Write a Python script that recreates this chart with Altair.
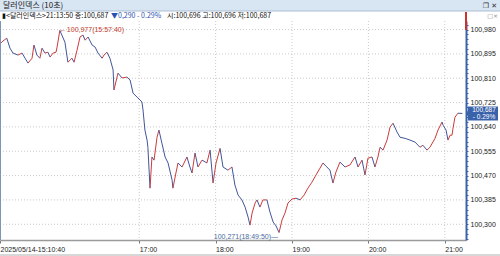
import altair as alt
import pandas as pd

DATE = "2025-05-14"

times = [
    "15:10:40", "15:13:00", "15:16:00", "15:18:30", "15:20:50", "15:24:50", "15:28:00", "15:30:20",
    "15:32:40", "15:35:50", "15:37:20", "15:39:40", "15:42:00", "15:43:40", "15:46:00", "15:48:20",
    "15:50:00", "15:52:20", "15:54:40", "15:55:30", "15:57:40", "16:01:40", "16:04:00", "16:07:10",
    "16:08:50", "16:11:10", "16:13:30", "16:15:50", "16:17:30", "16:19:50", "16:23:00", "16:25:20",
    "16:27:40", "16:30:50", "16:32:20", "16:34:40", "16:37:00", "16:39:30", "16:40:10", "16:43:20",
    "16:46:30", "16:50:20", "16:52:50", "16:55:10", "16:58:20", "17:00:40", "17:02:10", "17:03:00",
    "17:04:30", "17:06:10", "17:06:50", "17:08:30", "17:10:00", "17:11:40", "17:14:00", "17:15:30",
    "17:17:50", "17:20:20", "17:22:40", "17:25:50", "17:26:30", "17:28:50", "17:30:30", "17:33:40",
    "17:37:30", "17:39:50", "17:41:30", "17:43:50", "17:46:10", "17:49:20", "17:53:10", "17:55:40",
    "17:58:00", "18:00:20", "18:03:30", "18:05:50", "18:09:40", "18:12:50", "18:15:10", "18:17:40",
    "18:20:40", "18:23:10", "18:25:30", "18:27:00", "18:28:40", "18:31:00", "18:32:30", "18:34:50",
    "18:37:10", "18:40:20", "18:42:40", "18:45:10", "18:47:30", "18:49:50", "18:52:10", "18:54:30",
    "18:56:50", "19:00:00", "19:03:10", "19:06:20", "19:09:30", "19:12:30", "19:15:40", "19:18:50",
    "19:22:00", "19:24:20", "19:26:40", "19:29:50", "19:32:10", "19:34:30", "19:37:40", "19:41:40",
    "19:45:30", "19:49:30", "19:51:50", "19:55:00", "19:57:20", "19:59:40", "20:02:50", "20:05:10",
    "20:07:30", "20:09:10", "20:11:30", "20:14:40", "20:17:00", "20:19:20", "20:22:30", "20:24:50",
    "20:28:50", "20:32:40", "20:36:40", "20:40:30", "20:42:50", "20:46:00", "20:48:20", "20:52:20",
    "20:54:40", "20:57:50", "20:58:40", "21:01:00", "21:02:30", "21:04:10", "21:05:40", "21:06:30",
    "21:08:00", "21:10:20", "21:13:50",
]
values = [
    100.930, 100.940, 100.950, 100.915, 100.898, 100.891, 100.898, 100.880,
    100.863, 100.880, 100.926, 100.891, 100.880, 100.915, 100.898, 100.901,
    100.884, 100.898, 100.901, 100.919, 100.977, 100.936, 100.866, 100.880,
    100.866, 100.908, 100.954, 100.961, 100.943, 100.954, 100.926, 100.919,
    100.898, 100.880, 100.891, 100.901, 100.880, 100.839, 100.769, 100.828,
    100.811, 100.814, 100.804, 100.758, 100.744, 100.734, 100.727, 100.699,
    100.629, 100.594, 100.569, 100.426, 100.535, 100.524, 100.604, 100.629,
    100.583, 100.535, 100.514, 100.454, 100.426, 100.479, 100.514, 100.500,
    100.535, 100.500, 100.479, 100.549, 100.500, 100.524, 100.514, 100.559,
    100.444, 100.514, 100.565, 100.500, 100.489, 100.500, 100.437, 100.402,
    100.385, 100.360, 100.325, 100.297, 100.339, 100.374, 100.385, 100.360,
    100.385, 100.385, 100.343, 100.308, 100.294, 100.271, 100.315, 100.339,
    100.374, 100.388, 100.391, 100.385, 100.402, 100.426, 100.447, 100.472,
    100.496, 100.514, 100.503, 100.489, 100.444, 100.482, 100.517, 100.500,
    100.507, 100.535, 100.500, 100.524, 100.472, 100.531, 100.535, 100.500,
    100.535, 100.569, 100.559, 100.594, 100.639, 100.653, 100.622, 100.604,
    100.600, 100.594, 100.587, 100.569, 100.576, 100.559, 100.569, 100.600,
    100.629, 100.657, 100.646, 100.629, 100.594, 100.611, 100.611, 100.636,
    100.674, 100.688, 100.687,
]

y_major = [100.300, 100.385, 100.470, 100.555, 100.640, 100.725, 100.810, 100.895, 100.980]
y_minor_step = 0.017
hour_ticks = ["17:00:00", "18:00:00", "19:00:00", "20:00:00", "21:00:00"]
x_start, x_end = "15:10:40", "21:16:40"
y_lo, y_hi = 100.245, 101.010

peak_time, peak_value = "15:57:40", 100.977
low_time, low_value = "18:49:50", 100.271
last_time, last_value = "21:13:50", 100.687
change, change_pct = 0.290, 0.29
open_v, high_v, low_v = 100.696, 100.696, 100.687

RED = "#cc3b3b"
BLUE = "#43559a"
AXIS_BLUE = "#3a62aa"
KFONT = "Noto Sans CJK KR"
NFONT = "Liberation Sans"


def kfmt(v, d=3):
    return f"{v:.{d}f}".replace(".", ",")


def dt(s):
    h, m, sec = map(int, s.split(":"))
    return alt.DateTime(year=2025, month=5, date=14, hours=h, minutes=m, seconds=sec)


df = pd.DataFrame({"t": [f"{DATE}T{s}" for s in times], "v": values})

xscale = alt.Scale(domain=[dt(x_start), dt(x_end)])
yscale = alt.Scale(domain=[y_lo, y_hi], zero=False, nice=False)

minor_vals = [round(y_major[0] + y_minor_step * j, 3) for j in range(-3, 42)]
minor_vals = [v for v in minor_vals if y_lo <= v <= y_hi]

x_axis = alt.Axis(
    values=[dt(x_start)] + [dt(h) for h in hour_ticks],
    labelExpr=(
        f"timeFormat(datum.value, '%H:%M:%S') == '{x_start}' ? "
        f"'2025/05/14-{x_start}' : timeFormat(datum.value, '%H:%M')"
    ),
    labelAlign="left", labelPadding=2, tickSize=3, tickColor="#777",
    domainColor="#9a9a9a", domainWidth=1.5, labelFont=NFONT, labelFontSize=7,
    labelColor="#222", grid=False, title=None, labelOverlap=False, labelFlush=False,
)
y_axis = alt.Axis(
    orient="right", values=minor_vals,
    labelExpr=(
        f"abs((datum.value - {y_major[0]})/0.085 - round((datum.value - {y_major[0]})/0.085)) < 0.02"
        " ? replace(format(datum.value, '.3f'), '.', ',') : ''"
    ),
    domainColor=AXIS_BLUE, domainWidth=2, tickColor=AXIS_BLUE, tickSize=2,
    labelFont=NFONT, labelFontSize=7, labelPadding=2, labelColor="#222",
    grid=False, title=None, labelOverlap=False,
)

segments = (
    alt.Chart(df)
    .transform_calculate(ts="toDate(datum.t)")
    .transform_window(ts2="lead(ts)", v2="lead(v)", sort=[alt.SortField("ts")])
    .transform_filter("datum.v2 != null")
    .transform_calculate(up="datum.v2 >= datum.v")
    .mark_rule(strokeWidth=1)
    .encode(
        x=alt.X("ts:T", scale=xscale, axis=x_axis),
        x2="ts2:T",
        y=alt.Y("v:Q", scale=yscale, axis=y_axis),
        y2="v2:Q",
        color=alt.condition("datum.up", alt.value(RED), alt.value(BLUE)),
    )
)

hgrid = alt.Chart(pd.DataFrame({"g": y_major})).mark_rule(
    color="#c9c9c9", strokeDash=[1, 2], strokeWidth=1
).encode(y=alt.Y("g:Q", scale=yscale, axis=y_axis))

vgrid = alt.Chart(pd.DataFrame({"h": [f"{DATE}T{h}" for h in hour_ticks]})).mark_rule(
    color="#c9c9c9", strokeDash=[1, 2], strokeWidth=1
).encode(x=alt.X("h:T", scale=xscale, axis=x_axis))

peak_df = pd.DataFrame({"t": [f"{DATE}T{peak_time}"], "v": [peak_value],
                        "label": [f"←{kfmt(peak_value)}({peak_time})"]})
peak_txt = alt.Chart(peak_df).mark_text(
    align="left", baseline="middle", dx=0, font=NFONT, fontSize=7, color="#c0392b"
).encode(x=alt.X("t:T", scale=xscale, axis=x_axis), y=alt.Y("v:Q", scale=yscale, axis=y_axis), text="label")

low_df = pd.DataFrame({"t": [f"{DATE}T{low_time}"], "v": [low_value],
                       "label": [f"{kfmt(low_value)}({low_time})—"]})
low_txt = alt.Chart(low_df).mark_text(
    align="right", baseline="middle", dx=-1, dy=4, font=NFONT, fontSize=7, color="#4a6aa0"
).encode(x=alt.X("t:T", scale=xscale, axis=x_axis), y=alt.Y("v:Q", scale=yscale, axis=y_axis), text="label")

tag_df = pd.DataFrame({"v": [last_value], "l1": [kfmt(last_value)], "l2": [f"- {change_pct:.2f}%"]})
tag_path = "M-1.13,0L-1,-0.2L-1,-0.47L1,-0.47L1,0.47L-1,0.47L-1,0.2Z"
tag_box = alt.Chart(tag_df).mark_point(
    shape=tag_path, size=900, filled=True, color=AXIS_BLUE, opacity=1, strokeWidth=0
).encode(x=alt.value(483), y=alt.Y("v:Q", scale=yscale, axis=y_axis))
tag_t1 = alt.Chart(tag_df).mark_text(
    font=NFONT, fontSize=6.5, color="white", align="center", baseline="middle", dy=-3.3
).encode(x=alt.value(484), y=alt.Y("v:Q", scale=yscale, axis=y_axis), text="l1")
tag_t2 = alt.Chart(tag_df).mark_text(
    font=NFONT, fontSize=6.5, color="white", align="center", baseline="middle", dy=3.6
).encode(x=alt.value(484), y=alt.Y("v:Q", scale=yscale, axis=y_axis), text="l2")

one = pd.DataFrame({"_": [0]})
title_bar = alt.Chart(one).mark_rect(color="#d8e5f3").encode(
    x=alt.value(0), x2=alt.value(500), y=alt.value(-21), y2=alt.value(-10))
title_line = alt.Chart(one).mark_rule(color="#aebfd3").encode(
    x=alt.value(0), x2=alt.value(500), y=alt.value(-10))
title_txt = alt.Chart(one).mark_text(
    align="left", baseline="middle", font=KFONT, fontSize=8, color="#222"
).encode(x=alt.value(3), y=alt.value(-15.5), text=alt.value("달러인덱스 (10초)"))
win_btn = alt.Chart(one).mark_text(
    align="right", baseline="middle", font="DejaVu Sans", fontSize=7, color="#333"
).encode(x=alt.value(497), y=alt.value(-15.5), text=alt.value("❐ ✕"))

info1 = alt.Chart(one).mark_text(
    align="left", baseline="middle", font=KFONT, fontSize=7, color="#111"
).encode(x=alt.value(2), y=alt.value(-5), text=alt.value(f"▮<달러인덱스>{last_time} 종:{kfmt(last_value)}"))
info2 = alt.Chart(one).mark_text(
    align="left", baseline="middle", font=KFONT, fontSize=7, color="#2b4fb0"
).encode(x=alt.value(111), y=alt.value(-5), text=alt.value(f"▼{kfmt(change)}  - {change_pct:.2f}%"))
info3 = alt.Chart(one).mark_text(
    align="left", baseline="middle", font=KFONT, fontSize=7, color="#111"
).encode(x=alt.value(167), y=alt.value(-5),
         text=alt.value(f"시:{kfmt(open_v)} 고:{kfmt(high_v)} 저:{kfmt(low_v)}"))
corner_btn = alt.Chart(one).mark_text(
    align="right", baseline="middle", font="DejaVu Sans", fontSize=6, color="#888"
).encode(x=alt.value(498), y=alt.value(-5), text=alt.value("□×"))

left_border = alt.Chart(one).mark_rule(color="#7f93b8", strokeWidth=1).encode(
    x=alt.value(0.5), y=alt.value(0), y2=alt.value(219))
red_mark = alt.Chart(one).mark_rule(color="#d0302a", strokeWidth=2).encode(
    x=alt.value(466), y=alt.value(-9), y2=alt.value(9))
bottom_border = alt.Chart(one).mark_rule(color="#b0b0b0", strokeWidth=1).encode(
    x=alt.value(0), x2=alt.value(500), y=alt.value(234))

chart = alt.layer(
    title_bar, title_line, title_txt, win_btn, info1, info2, info3, corner_btn,
    hgrid, vgrid, segments, left_border, peak_txt, low_txt,
    tag_box, tag_t1, tag_t2, red_mark, bottom_border,
).properties(
    width=466, height=219,
    padding={"left": 0, "top": 21, "right": 34, "bottom": 16},
    autosize=alt.AutoSizeParams(type="none"),
    background="white",
).configure_view(stroke=None)

chart.save("out.html", embed_options={"renderer": "svg", "actions": False})
